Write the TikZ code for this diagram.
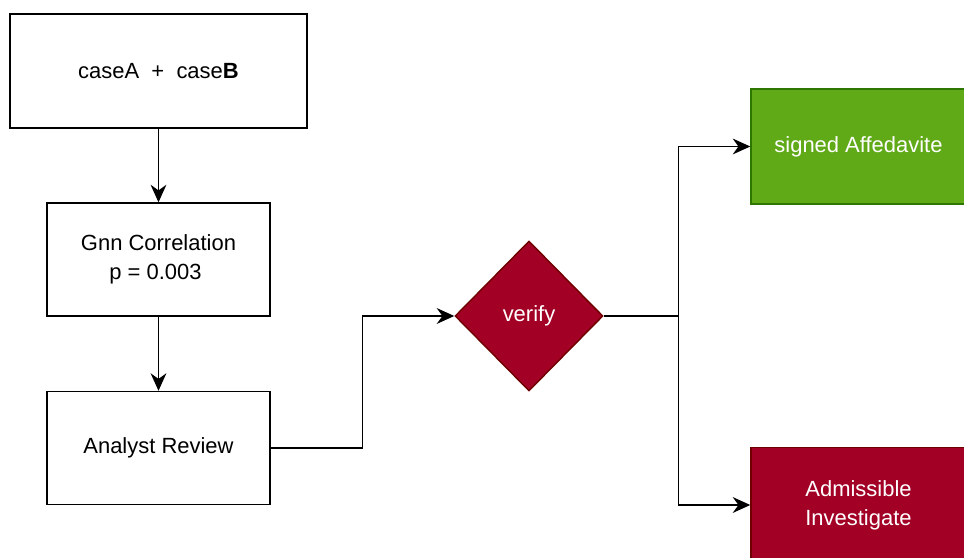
\documentclass[tikz,border=0pt]{standalone}
\usepackage{fontspec}
\setmainfont{Liberation Sans}
\usetikzlibrary{arrows.meta,shapes.geometric}
\definecolor{okgreen}{HTML}{60A917}
\definecolor{okgreenline}{HTML}{2D7600}
\definecolor{badred}{HTML}{A20025}
\definecolor{badredline}{HTML}{6F0000}

\begin{document}
\begin{tikzpicture}[
    >={Stealth[length=10pt,width=9pt]},
    every node/.style={font=\fontsize{12.5}{16.5}\selectfont},
    plain/.style={draw=black,line width=0.8pt,rectangle,align=center,inner sep=0pt},
    verdict/.style={rectangle,align=center,inner sep=0pt,text=white,line width=0.8pt,
        minimum width=4.3cm,minimum height=2.3cm},
    line width=0.8pt]

\useasboundingbox (0,0) rectangle (19.28,11.14);

\node[plain,minimum width=5.94cm,minimum height=2.28cm] (cases) at (3.17,9.72) {caseA~ +~ case\textbf{B}};
\node[plain,minimum width=4.46cm,minimum height=2.26cm] (gnn) at (3.17,5.95) {Gnn Correlation\\p = 0.003~~};
\node[plain,minimum width=4.46cm,minimum height=2.26cm] (review) at (3.17,2.18) {Analyst Review};

\node[diamond,minimum width=2.96cm,minimum height=3.0cm,inner sep=0pt,fill=badred,draw=badredline,text=white] (verify) at (10.58,4.82) {verify};

\node[verdict,fill=okgreen,draw=okgreenline] (signed) at (17.17,8.21) {signed Affedavite};
\node[verdict,fill=badred,draw=badredline] (admissible) at (17.17,1.04) {Admissible\\Investigate};

\draw[->] (cases) -- (gnn);
\draw[->] (gnn) -- (review);
\draw[->] (review.east) -- ++(1.84,0) |- (verify.west);
\draw[->] (verify.east) -- ++(1.5,0) |- (signed.west);
\draw[->] (verify.east) -- ++(1.5,0) |- (admissible.west);
\end{tikzpicture}
\end{document}
